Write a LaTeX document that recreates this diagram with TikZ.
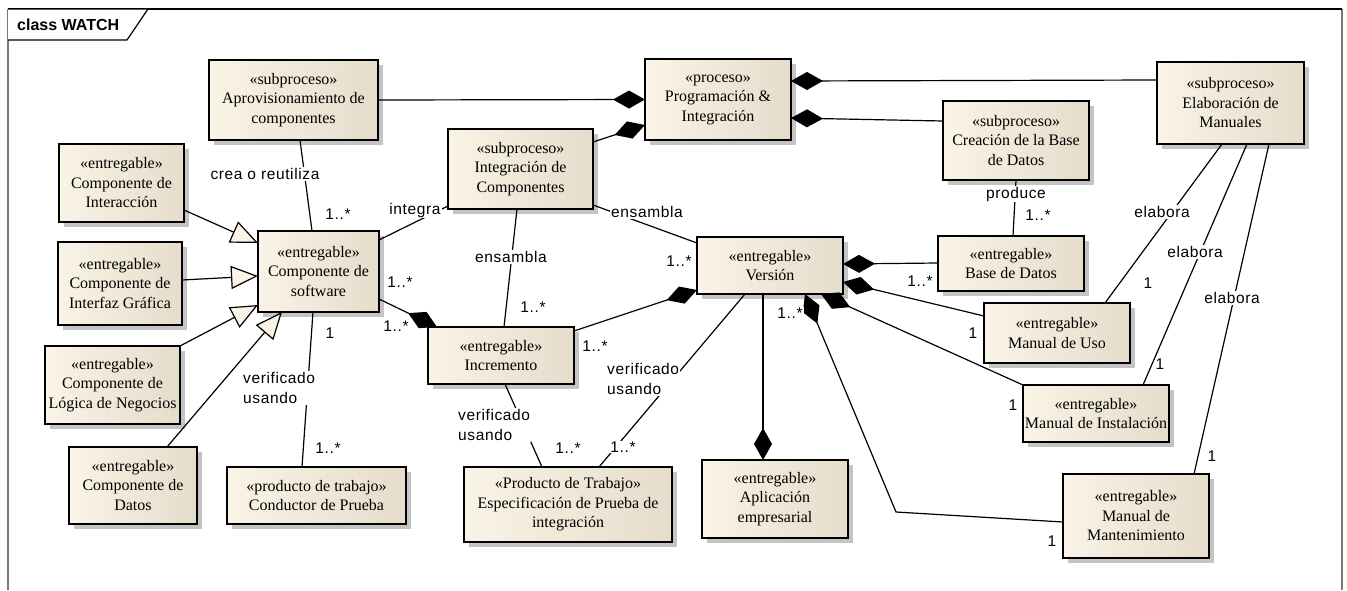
\documentclass[tikz,border=0pt]{standalone}
\usepackage{fontspec}
\setmainfont{Liberation Serif}
\newfontfamily\lblfont[LetterSpace=4]{Liberation Sans}
\newfontfamily\hdrfont{Liberation Sans}
\usetikzlibrary{arrows.meta,shadows,calc}

\definecolor{boxleft}{RGB}{250,244,231}
\definecolor{boxright}{RGB}{229,220,203}
\definecolor{shadowgray}{RGB}{196,196,196}
\definecolor{framegray}{RGB}{120,120,120}

\begin{document}
\begin{tikzpicture}[x=1pt,y=-1pt,
  ubox/.style={draw=black, line width=1.6pt, left color=boxleft, right color=boxright,
    drop shadow={shadow xshift=5pt, shadow yshift=-5pt, fill=shadowgray, opacity=1},
    anchor=north west, inner sep=0pt, outer sep=0pt, align=center,
    font=\fontsize{16}{19.5}\selectfont},
  link/.style={line width=1.2pt, draw=black},
  comp/.style={link, -{Diamond[length=32pt,width=18pt]}},
  gen/.style={link, -{Triangle[length=27pt,width=23pt,fill=boxleft]}},
  lbl/.style={font=\lblfont\fontsize{15.5}{20}\selectfont, fill=white, inner sep=1pt, align=left},
]
% canvas
\useasboundingbox[fill=white] (0,0) rectangle (1347,590);

% diagram frame and its tab
\draw[line width=1.4pt, framegray] (8,590) -- (8,9);
\draw[line width=1.4pt, framegray] (1342,9) -- (1342,590);
\draw[line width=1.4pt, black] (8,9) -- (1342,9);
\draw[line width=1.2pt, fill=white] (8,9) -- (148,9) -- (127,40) -- (8,40);
\node[anchor=west, font=\hdrfont\bfseries\fontsize{16}{19}\selectfont, inner sep=0pt] (title) at (17,25) {class WATCH};

% ---------- classes ----------
\node[ubox, minimum width=169, minimum height=80] (aprov) at (209,60) {«subproceso»\\Aprovisionamiento de\\componentes};
\node[ubox, minimum width=146, minimum height=81] (prog) at (645,59) {«proceso»\\Programación \&\\Integración};
\node[ubox, minimum width=145, minimum height=80] (integ) at (448,129) {«subproceso»\\Integración de\\Componentes};
\node[ubox, minimum width=146, minimum height=79] (creac) at (943,101) {«subproceso»\\Creación de la Base\\de Datos};
\node[ubox, minimum width=147, minimum height=82] (elab) at (1157,62) {«subproceso»\\Elaboración de\\Manuales};
\node[ubox, minimum width=125, minimum height=78] (inter) at (59,144) {«entregable»\\Componente de\\Interacción};
\node[ubox, minimum width=124, minimum height=83] (gui) at (58,242) {«entregable»\\Componente de\\Interfaz Gráfica};
\node[ubox, minimum width=121, minimum height=81] (soft) at (258,231) {«entregable»\\Componente de\\software};
\node[ubox, minimum width=135, minimum height=78] (logica) at (45,346) {«entregable»\\Componente de\\Lógica de Negocios};
\node[ubox, minimum width=128, minimum height=77] (datos) at (69,447) {«entregable»\\Componente de\\Datos};
\node[ubox, minimum width=179, minimum height=57] (conductor) at (227,467) {«producto de trabajo»\\Conductor de Prueba};
\node[ubox, minimum width=146, minimum height=57] (incr) at (428,327) {«entregable»\\Incremento};
\node[ubox, minimum width=146, minimum height=57] (version) at (697,237) {«entregable»\\Versión};
\node[ubox, minimum width=146, minimum height=55] (bd) at (938,236) {«entregable»\\Base de Datos};
\node[ubox, minimum width=146, minimum height=60] (uso) at (984,303) {«entregable»\\Manual de Uso};
\node[ubox, minimum width=146, minimum height=57] (instal) at (1023,385) {«entregable»\\Manual de Instalación};
\node[ubox, minimum width=146, minimum height=84] (mant) at (1063,474) {«entregable»\\Manual de\\Mantenimiento};
\node[ubox, minimum width=208, minimum height=75] (espec) at (464,467) {«Producto de Trabajo»\\Especificación de Prueba de\\integración};
\node[ubox, minimum width=146, minimum height=78] (aplic) at (702,460) {«entregable»\\Aplicación\\empresarial};

% ---------- compositions ----------
\draw[comp] (aprov.east) -- (prog.west);
\draw[comp] ($(integ.north east)+(0,13)$) -- ($(prog.south west)+(0,-15)$);
\draw[comp] ($(elab.north west)+(0,18)$) -- ($(prog.north east)+(0,22)$);
\draw[comp] ($(creac.north west)+(0,20)$) -- ($(prog.north east)+(0,59)$);
\draw[comp] ($(soft.north east)+(0,68)$) -- ($(incr.north west)+(9,0)$);
\draw[comp] ($(incr.north east)+(0,4)$) -- ($(version.south west)+(0,-4)$);
\draw[comp] ($(bd.north west)+(0,27)$) -- ($(version.north east)+(0,27)$);
\draw[comp] ($(uso.north west)+(0,13)$) -- ($(version.north east)+(0,45)$);
\draw[comp] (instal.north west) -- ($(version.south west)+(124,0)$);
\coordinate (mbend) at (896,512);
\draw[comp] ($(mant.north west)+(0,48)$) -- (mbend) -- ($(version.south west)+(108,0)$);
\draw[comp] ($(version.south west)+(66,0)$) -- ($(aplic.north west)+(61,0)$);

% ---------- associations ----------
\draw[link] ($(aprov.south west)+(91,0)$) -- ($(soft.north west)+(54,0)$);
\draw[link] ($(soft.north east)+(0,9)$) -- ($(integ.south west)+(0,-3)$);
\draw[link] ($(integ.south west)+(69,0)$) -- ($(incr.north west)+(76,0)$);
\draw[link] ($(integ.south east)+(0,-4)$) -- ($(version.north west)+(0,6)$);
\draw[link] ($(creac.south west)+(73,0)$) -- ($(bd.north west)+(75,0)$);
\draw[link] ($(version.south west)+(48,0)$) -- ($(espec.north west)+(135,0)$);
\draw[link] ($(incr.south west)+(77,0)$) -- ($(espec.north west)+(78,0)$);
\draw[link] ($(soft.south west)+(55,0)$) -- ($(conductor.north west)+(75,0)$);
\draw[link] ($(elab.south west)+(65,0)$) -- ($(uso.north west)+(121,0)$);
\draw[link] ($(elab.south west)+(90,0)$) -- ($(instal.north west)+(120,0)$);
\draw[link] ($(elab.south west)+(112,0)$) -- ($(mant.north west)+(131,0)$);

% ---------- generalizations ----------
\draw[gen] ($(inter.north east)+(0,66)$) -- ($(soft.north west)+(0,12)$);
\draw[gen] ($(gui.north east)+(0,38)$) -- ($(soft.north west)+(0,45)$);
\draw[gen] (logica.north east) -- ($(soft.north west)+(0,74)$);
\draw[gen] ($(datos.north west)+(98,0)$) -- ($(soft.south west)+(24,0)$);

% ---------- role names and multiplicities ----------
\node[lbl] (t1) at (265,174) {crea o reutiliza};
\node[lbl] (t2) at (338,214) {1..*};
\node[lbl] (t3) at (415,210) {integra};
\node[lbl] (t4) at (400,282) {1..*};
\node[lbl] (t5) at (396,326) {1..*};
\node[lbl] (t6) at (511,257) {ensambla};
\node[lbl] (t7) at (533,307) {1..*};
\node[lbl] (t8) at (647,212) {ensambla};
\node[lbl] (t9) at (679,261) {1..*};
\node[lbl] (t10) at (595,346) {1..*};
\node[lbl] (t11) at (330,333) {1};
\node[lbl, anchor=west] (t12) at (242,388) {verificado\\usando};
\node[lbl] (t13) at (328,448) {1..*};
\node[lbl, anchor=west] (t14) at (457,425) {verificado\\usando};
\node[lbl] (t15) at (568,448) {1..*};
\node[lbl, anchor=west] (t16) at (606,379) {verificado\\usando};
\node[lbl] (t17) at (623,447) {1..*};
\node[lbl] (t18) at (1016,194) {produce};
\node[lbl] (t19) at (1038,215) {1..*};
\node[lbl] (t20) at (920,281) {1..*};
\node[lbl] (t21) at (973,333) {1};
\node[lbl] (t22) at (1013,405) {1};
\node[lbl] (t23) at (790,313) {1..*};
\node[lbl] (t24) at (1052,541) {1};
\node[lbl] (t25) at (1162,212) {elabora};
\node[lbl] (t26) at (1148,283) {1};
\node[lbl] (t27) at (1195,252) {elabora};
\node[lbl] (t28) at (1160,364) {1};
\node[lbl] (t29) at (1232,298) {elabora};
\node[lbl] (t30) at (1212,456) {1};
\end{tikzpicture}
\end{document}
